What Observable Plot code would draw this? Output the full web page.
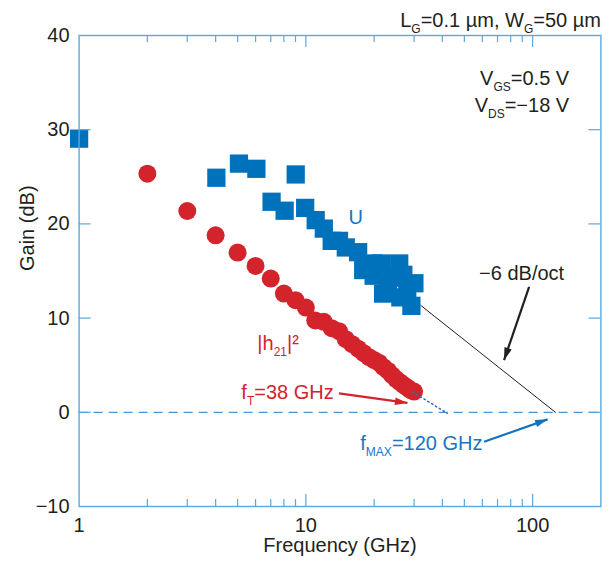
<!DOCTYPE html>
<html>
<head>
<meta charset="utf-8">
<script src="https://cdn.jsdelivr.net/npm/d3@7"></script>
<script src="https://cdn.jsdelivr.net/npm/@observablehq/plot@0.6"></script>
<style>
  html, body { margin: 0; padding: 0; background: #fff; }
  #chart svg { display: block; }
</style>
</head>
<body>
<div id="chart"></div>
<script>
// ---- Data ----
// U (unilateral gain), blue squares: frequency (GHz), gain (dB)
const uFreq = [1.0, 4.03, 5.07, 6.05, 7.06, 8.06, 9.02, 9.93, 11.05, 12.0, 13.0, 14.0, 15.0, 17.0, 17.9, 19.8, 19.9, 21.5, 21.9, 23.0, 24.0, 25.8, 26.1, 26.9, 28.0, 29.2, 30.1];
const uGain = [29.05, 24.9, 26.4, 25.85, 22.35, 21.4, 25.25, 21.7, 20.4, 19.5, 18.2, 18.2, 17.5, 17.0, 15.1, 15.8, 14.5, 15.8, 12.6, 13.8, 14.3, 15.8, 12.2, 14.6, 13.0, 11.3, 13.7];
// |h21|^2, red circles
const hFreq = [2, 3, 4, 5, 6, 7, 8, 9, 10, 11, 12, 13, 14, 15, 16, 17, 18, 19, 20, 21, 22, 23, 24, 25, 26, 27, 28, 29, 30];
const hGain = [25.33, 21.37, 18.79, 16.96, 15.54, 14.2, 12.61, 11.9, 11.12, 9.75, 9.6, 8.93, 8.61, 7.76, 7.23, 6.75, 6.28, 5.85, 5.54, 5.27, 4.79, 4.42, 3.94, 3.53, 3.2, 2.89, 2.62, 2.35, 2.2];
// -6 dB/oct extrapolation of U (black line)
const slopeFreq = [32.1, 126];
const slopeGain = [11.35, 0];
// |h21|^2 extrapolation (dotted)
const ftFreq = [29.5, 42];
const ftGain = [2.17, -0.1];
// Axis ticks
const xMajorTicks = [1, 10, 100];
const xMinorTicks = [2, 3, 4, 5, 6, 7, 8, 9, 20, 30, 40, 50, 60, 70, 80, 90];
const yTicks = [-10, 0, 10, 20, 30, 40];
// Annotation arrows: from (freq, gain) to (freq, gain)
const arrowFromFreq = [14.0, 61.1, 96.5];
const arrowFromGain = [2.0, -3.13, 13.31];
const arrowToFreq = [28.05, 116.4, 74.8];
const arrowToGain = [1.0, -0.75, 5.54];
// Annotation texts and where they sit
const noteText = ["U", "|h_{21}|²", "f_{T}=38 GHz", "f_{MAX}=120 GHz", "−6 dB/oct", "V_{GS}=0.5 V", "V_{DS}=−18 V", "L_{G}=0.1 µm, W_{G}=50 µm"];
const noteFreq = [16.6, 6.11, 13.27, 60.1, 58.07, 144.9, 144.9, 200];
const noteGain = [20.7, 7.3, 2.09, -3.3, 14.73, 35.41, 32.58, 41.6];
const xLabel = "Frequency (GHz)";
const yLabel = "Gain (dB)";

// ---- Styles ----
const BLUE = "#0071bb", RED = "#d3232b", AXIS = "#5aa8df", DASH = "#4596d8", DOTS = "#3d65b8", TXTBLUE = "#1577c2", DARK = "#231f20";
const W = 611, H = 561, ML = 78.6, MR = 10.6, MT = 35, MB = 55;
const FW = W - ML - MR, FH = H - MT - MB;
const FONT = 20;

const uData = uFreq.map((f, i) => ({f, g: uGain[i]}));
const hData = hFreq.map((f, i) => ({f, g: hGain[i]}));
const slopeData = slopeFreq.map((f, i) => ({f, g: slopeGain[i]}));
const ftData = ftFreq.map((f, i) => ({f, g: ftGain[i]}));
const arrowData = arrowFromFreq.map((f, i) => ({x1: f, y1: arrowFromGain[i], x2: arrowToFreq[i], y2: arrowToGain[i]}));
const notes = noteText.map((t, i) => ({t, f: noteFreq[i], g: noteGain[i]}));
const noteColor = [TXTBLUE, RED, RED, TXTBLUE, DARK, DARK, DARK, DARK];
const noteAnchor = ["middle", "start", "end", "end", "start", "end", "end", "end"];
const arrowColor = [RED, "#1173bf", DARK];

const textGroups = ["start", "middle", "end"].map(a =>
  Plot.text(notes.filter((d, i) => noteAnchor[i] === a), {
    x: "f", y: "g", text: "t", textAnchor: a, fontSize: FONT,
    fill: d => noteColor[notes.indexOf(d)]
  })
);

const chart = Plot.plot({
  width: W, height: H,
  marginLeft: ML, marginRight: MR, marginTop: MT, marginBottom: MB,
  x: {type: "log", domain: [1, 200]},
  y: {domain: [-10, 40]},
  style: {fontFamily: "'Liberation Sans', Arial, Helvetica, sans-serif", fontSize: FONT + "px", color: DARK, background: "#fff"},
  marks: [
    Plot.ruleY([0], {stroke: DASH, strokeWidth: 1.3, strokeDasharray: "9,6"}),
    Plot.line(slopeData, {x: "f", y: "g", stroke: DARK, strokeWidth: 1}),
    Plot.dot(uData, {x: "f", y: "g", symbol: "square", r: 10.3, fill: BLUE}),
    Plot.dot(hData, {x: "f", y: "g", r: 9, fill: RED}),
    Plot.line(ftData, {x: "f", y: "g", stroke: DOTS, strokeWidth: 1.5, strokeDasharray: "1.5,3"}),
    // inward ticks, bottom & top
    Plot.tickX(xMinorTicks, {x: d => d, stroke: AXIS, strokeWidth: 1.2, insetTop: FH - 7}),
    Plot.tickX(xMinorTicks, {x: d => d, stroke: AXIS, strokeWidth: 1.2, insetBottom: FH - 7}),
    Plot.tickX(xMajorTicks.slice(1), {x: d => d, stroke: AXIS, strokeWidth: 1.2, insetTop: FH - 12}),
    Plot.tickX(xMajorTicks.slice(1), {x: d => d, stroke: AXIS, strokeWidth: 1.2, insetBottom: FH - 12}),
    // inward ticks, left & right
    Plot.tickY(yTicks.slice(1, -1), {y: d => d, stroke: AXIS, strokeWidth: 1.2, insetRight: FW - 12}),
    Plot.tickY(yTicks.slice(1, -1), {y: d => d, stroke: AXIS, strokeWidth: 1.2, insetLeft: FW - 12}),
    Plot.frame({stroke: AXIS, strokeWidth: 1.4}),
    Plot.axisX({ticks: xMajorTicks, tickSize: 0, tickPadding: 11, tickFormat: d => String(d), label: null, fontSize: FONT}),
    Plot.axisY({ticks: yTicks, tickSize: 0, tickPadding: 9.5, tickFormat: d => d < 0 ? "−" + Math.abs(d) : String(d), label: null, fontSize: FONT}),
    Plot.text([xLabel], {frameAnchor: "bottom", dy: 45.5, fontSize: FONT, fill: DARK}),
    Plot.text([yLabel], {frameAnchor: "left", dx: -52, rotate: -90, fontSize: FONT, fill: DARK}),
    Plot.link(arrowData, {x1: "x1", y1: "y1", x2: "x2", y2: "y2", stroke: (d, i) => arrowColor[arrowData.indexOf(d)], strokeWidth: 2.2, markerEnd: "arrow"}),
    ...textGroups
  ]
});

// Filled arrowheads
chart.querySelectorAll("marker").forEach(m => {
  const c = m.getAttribute("stroke");
  m.setAttribute("viewBox", "-9 -5 10 10");
  m.setAttribute("fill", c);
  m.setAttribute("stroke", "none");
  m.querySelectorAll("path").forEach(p => p.setAttribute("d", "M-8.5,-2.6L0,0L-8.5,2.6Z"));
});

// Subscripts: "_{...}"
const NS = "http://www.w3.org/2000/svg";
chart.querySelectorAll("text").forEach(t => {
  if (t.querySelector("tspan")) return;
  const s = t.textContent;
  if (!/_\{/.test(s)) return;
  t.textContent = "";
  const re = /_\{([^}]*)\}/g;
  let last = 0, m, down = false;
  const add = (txt, opts) => {
    const ts = document.createElementNS(NS, "tspan");
    ts.textContent = txt;
    for (const k in opts) ts.setAttribute(k, opts[k]);
    t.appendChild(ts);
  };
  while ((m = re.exec(s))) {
    if (m.index > last) { add(s.slice(last, m.index), down ? {dy: -6} : {}); down = false; }
    add(m[1], {dy: 6, "font-size": 12});
    down = true;
    last = re.lastIndex;
  }
  if (last < s.length) add(s.slice(last), down ? {dy: -6} : {});
});

document.getElementById("chart").appendChild(chart);
</script>
</body>
</html>
